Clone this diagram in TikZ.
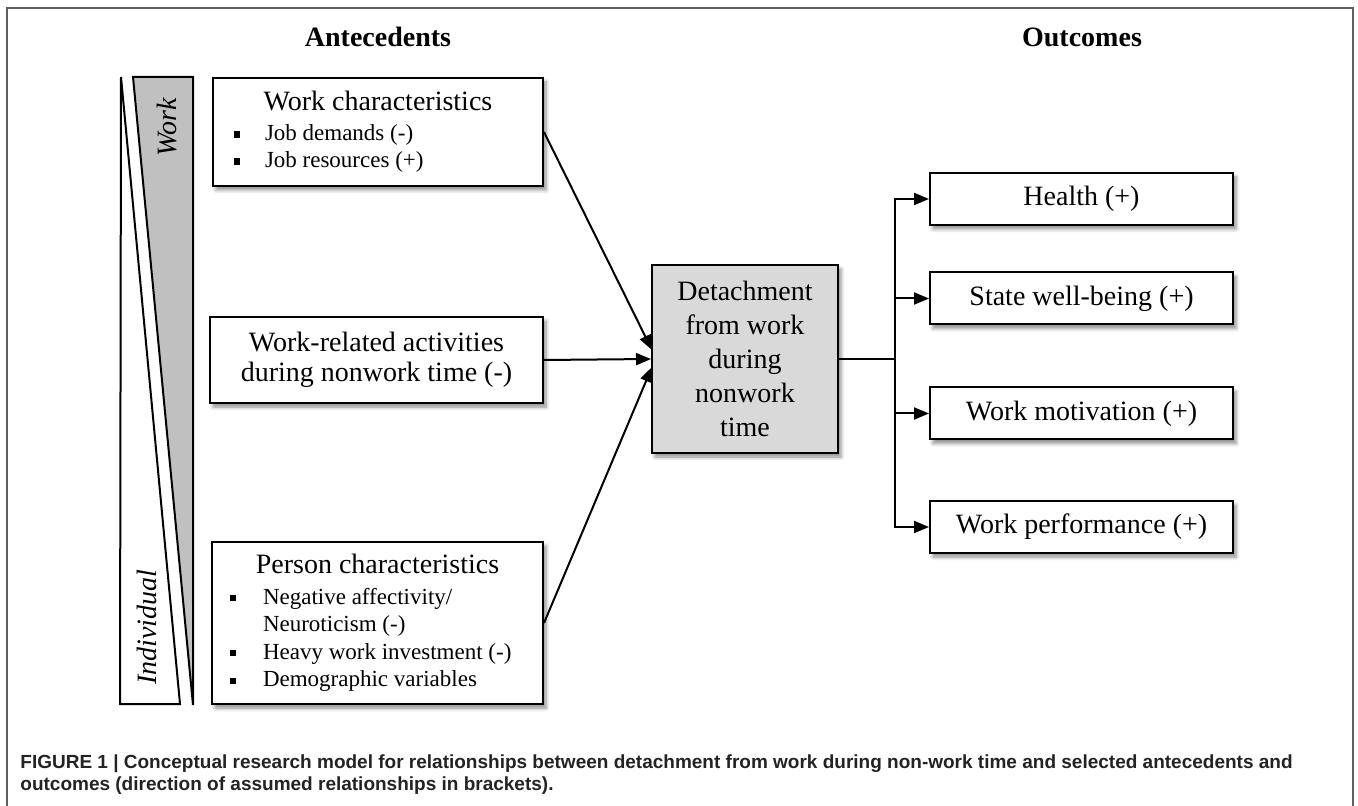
\documentclass[tikz,border=0pt]{standalone}
\usepackage{fontspec}
\setmainfont{Liberation Serif}
\newfontfamily\capfont{Liberation Sans}
\usepackage{tikz}
\usetikzlibrary{arrows.meta,shadows.blur}
\definecolor{frameGray}{RGB}{95,95,95}
\definecolor{boxGray}{RGB}{217,217,217}
\definecolor{wedgeGray}{RGB}{192,192,192}
\definecolor{capText}{RGB}{35,35,35}
\newcommand{\sqbul}{\rule[0.28ex]{3.2pt}{3.2pt}}

\begin{document}
\begin{tikzpicture}[x=0.5pt,y=-0.5pt,
  box/.style={draw, line width=1pt, fill=white, inner sep=0pt, align=center,
    font=\fontsize{14}{15}\selectfont,
    blur shadow={shadow xshift=1.5pt, shadow yshift=-2pt, shadow blur steps=5, shadow opacity=45}},
  arr/.style={line width=1pt, -{Triangle[length=7.5pt,width=6pt]}},
  head/.style={font=\bfseries\fontsize{14}{16}\selectfont}]
\useasboundingbox (0,0) rectangle (1358,806);
\draw[frameGray, line width=0.8pt] (7,806) -- (7,8) -- (1353,8) -- (1353,806);
\node[head] (antec) at (378,37) {Antecedents};
\node[head] (outc) at (1082,37) {Outcomes};
\draw[line width=1pt, fill=white] (121,77) -- (120,704) -- (180,704) -- cycle;
\draw[line width=1pt, fill=wedgeGray] (133,77) -- (193,77) -- (193,705) -- cycle;
\node[rotate=90, font=\itshape\fontsize{14}{16}\selectfont] (worklbl) at (167,127) {Work};
\node[rotate=90, font=\itshape\fontsize{14}{16}\selectfont] (indivlbl) at (147,627) {Individual};
\node[box, minimum width=165pt, minimum height=54pt] (workchar) at (378,132) {\parbox{165pt}{\centering Work characteristics\par\vspace{1.5pt}
  \raggedright\fontsize{11.5}{13.5}\selectfont
  \hspace*{10.5pt}\makebox[15.5pt][l]{\sqbul}Job demands (-)\par
  \hspace*{10.5pt}\makebox[15.5pt][l]{\sqbul}Job resources (+)}};
\node[box, minimum width=166.5pt, minimum height=43pt] (activities) at (376.5,360) {\fontsize{14}{15}\selectfont Work-related activities\\[0pt] during nonwork time (-)};
\node[box, minimum width=165.5pt, minimum height=81pt] (person) at (377.5,623) {\parbox{165.5pt}{\centering Person characteristics\par\vspace{1.5pt}
  \raggedright\fontsize{11.5}{13.8}\selectfont
  \hspace*{9pt}\makebox[16.5pt][l]{\sqbul}Negative affectivity/\par
  \hspace*{25.5pt}Neuroticism (-)\par
  \hspace*{9pt}\makebox[16.5pt][l]{\sqbul}Heavy work investment (-)\par
  \hspace*{9pt}\makebox[16.5pt][l]{\sqbul}Demographic variables}};
\node[box, fill=boxGray, minimum width=93pt, minimum height=94pt, font=\fontsize{14}{16.9}\selectfont] (detach) at (745,359) {Detachment\\from work\\during\\nonwork\\time};
\node[box, minimum width=151.5pt, minimum height=26pt] (health) at (1081.5,199) {Health (+)};
\node[box, minimum width=151.5pt, minimum height=26pt] (wellbeing) at (1081.5,298.5) {State well-being (+)};
\node[box, minimum width=151.5pt, minimum height=26pt] (motivation) at (1081.5,413.5) {Work motivation (+)};
\node[box, minimum width=151.5pt, minimum height=26pt] (performance) at (1081.5,527) {Work performance (+)};
\coordinate (inTop) at (652,350);
\coordinate (inLow) at (652,367);
\coordinate (split) at (895,359);
\draw[arr] (workchar.east) -- (inTop);
\draw[arr] (activities.east) -- (detach.west);
\draw[arr] (person.east) -- (inLow);
\draw[line width=1pt] (detach.east) -- (split);
\foreach \b in {health,wellbeing,motivation,performance}
  \draw[arr] (split) |- (\b.west);
\node[anchor=north west, inner sep=0pt, align=left, text=capText,
  font=\capfont\bfseries\fontsize{9.5}{11.2}\selectfont] (caption) at (20,754)
  {FIGURE 1 | Conceptual research model for relationships between detachment from work during non-work time and selected antecedents and\\
   outcomes (direction of assumed relationships in brackets).};
\end{tikzpicture}
\end{document}
